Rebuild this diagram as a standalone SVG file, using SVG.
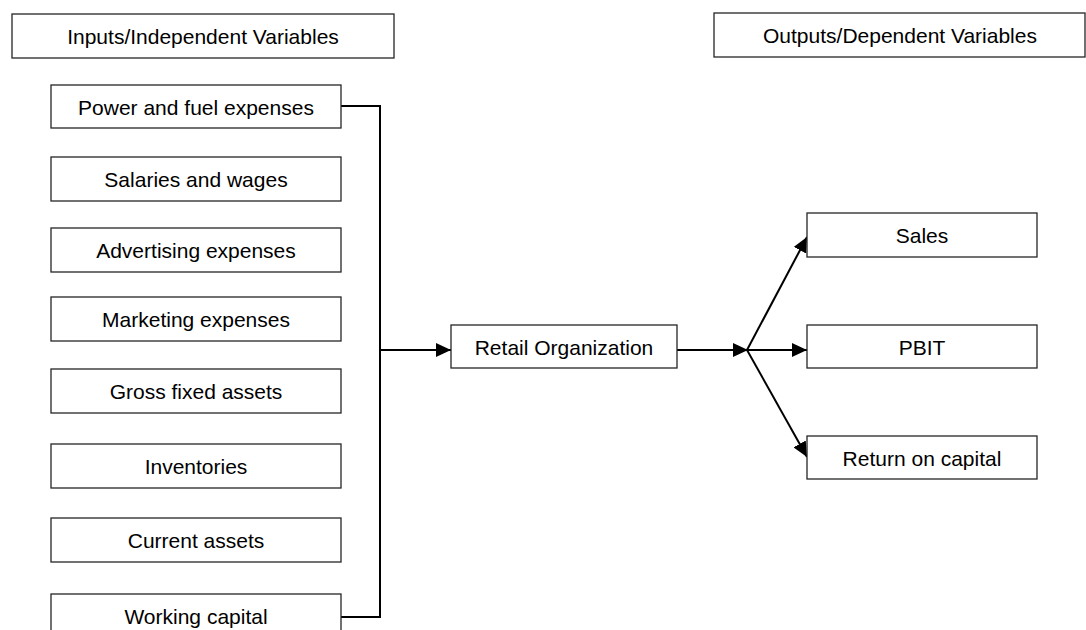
<svg xmlns="http://www.w3.org/2000/svg" width="1086" height="630" viewBox="0 0 1086 630">
<style>
  .box { fill: #ffffff; stroke: #262626; stroke-width: 1.3; }
  .lbl { font-family: "Liberation Sans", Arial, sans-serif; font-size: 21px; fill: #000; text-anchor: middle; }
  .con { fill: none; stroke: #000; stroke-width: 2; }
</style>
<defs>
  <marker id="arr" markerUnits="userSpaceOnUse" markerWidth="16" markerHeight="14" refX="15" refY="7" orient="auto">
    <path d="M0,0 L15,7 L0,14 Z" fill="#000"/>
  </marker>
</defs>
<rect width="1086" height="630" fill="#fff"/>

<g id="connectors">
  <polyline class="con" points="341,106 380,106 380,617 341,617"/>
  <line class="con" x1="380" y1="350" x2="451" y2="350" marker-end="url(#arr)"/>
  <line class="con" x1="677" y1="350" x2="748" y2="350" marker-end="url(#arr)"/>
  <line class="con" x1="747" y1="350" x2="807" y2="350" marker-end="url(#arr)"/>
  <line class="con" x1="747" y1="350" x2="807" y2="237" marker-end="url(#arr)"/>
  <line class="con" x1="747" y1="350" x2="807" y2="457" marker-end="url(#arr)"/>
</g>

<g id="inputs-header"><rect class="box" x="12" y="14" width="382" height="44"/><text class="lbl" x="203" y="44">Inputs/Independent Variables</text></g>
<g id="outputs-header"><rect class="box" x="714" y="13" width="371" height="44"/><text class="lbl" x="900" y="43">Outputs/Dependent Variables</text></g>

<g id="power"><rect class="box" x="51" y="85" width="290" height="43"/><text class="lbl" x="196" y="114.5">Power and fuel expenses</text></g>
<g id="salaries"><rect class="box" x="51" y="157" width="290" height="44"/><text class="lbl" x="196" y="187">Salaries and wages</text></g>
<g id="advertising"><rect class="box" x="51" y="228" width="290" height="44"/><text class="lbl" x="196" y="258">Advertising expenses</text></g>
<g id="marketing"><rect class="box" x="51" y="297" width="290" height="44"/><text class="lbl" x="196" y="327">Marketing expenses</text></g>
<g id="gross"><rect class="box" x="51" y="369" width="290" height="44"/><text class="lbl" x="196" y="399">Gross fixed assets</text></g>
<g id="inventories"><rect class="box" x="51" y="444" width="290" height="44"/><text class="lbl" x="196" y="474">Inventories</text></g>
<g id="current"><rect class="box" x="51" y="518" width="290" height="44"/><text class="lbl" x="196" y="548">Current assets</text></g>
<g id="working"><rect class="box" x="51" y="594" width="290" height="44"/><text class="lbl" x="196" y="624">Working capital</text></g>

<g id="retail"><rect class="box" x="451" y="325" width="226" height="43"/><text class="lbl" x="564" y="354.5">Retail Organization</text></g>

<g id="sales"><rect class="box" x="807" y="213" width="230" height="44"/><text class="lbl" x="922" y="243">Sales</text></g>
<g id="pbit"><rect class="box" x="807" y="325" width="230" height="43"/><text class="lbl" x="922" y="354.5">PBIT</text></g>
<g id="return"><rect class="box" x="807" y="436" width="230" height="43"/><text class="lbl" x="922" y="465.5">Return on capital</text></g>
</svg>
